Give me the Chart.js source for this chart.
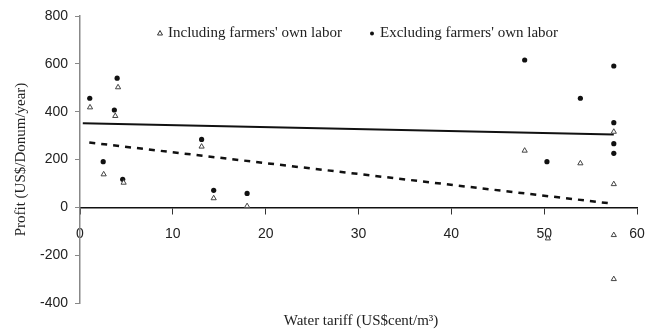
<!DOCTYPE html>
<html lang="en">
<head>
    <meta charset="UTF-8">
    <title>Profit vs water tariff</title>
    <script src="https://cdn.jsdelivr.net/npm/chart.js"></script>
    <style>
        html, body {
            margin: 0;
            padding: 0;
            background: #ffffff;
        }
        #wrap {
            width: 661px;
            height: 331px;
        }
    </style>
</head>
<body>
    <div id="wrap"><canvas id="chartCanvas" width="661" height="331"></canvas></div>
    <script>
        // Datos
        const tariffIncl = [1.08, 3.8, 4.1, 13.1, 2.55, 4.7, 14.4, 18.0, 47.9, 53.9, 57.5, 57.5, 50.4, 57.5, 57.5];
        const profitIncl = [418, 382, 502, 254, 138, 103, 38, 5, 237, 184, 316, 97, -130, -116, -300];

        const tariffExcl = [1.05, 3.7, 4.0, 2.5, 13.1, 4.6, 14.4, 18.0, 47.9, 57.5, 53.9, 57.5, 57.5, 57.5, 50.3];
        const profitExcl = [456, 407, 540, 191, 284, 117, 71, 58, 616, 591, 456, 354, 266, 226, 191];

        // Líneas de tendencia (extremos)
        const trendExclX = [0.3, 57.5];
        const trendExclY = [352, 305];
        const trendInclX = [1, 57];
        const trendInclY = [271, 17];

        const seriesNames = ["Including farmers' own labor", "Excluding farmers' own labor"];
        const xTitle = "Water tariff (US$cent/m\u00B3)";
        const yTitle = "Profit (US$/Donum/year)";

        const toPoints = (xs, ys) => xs.map((x, i) => ({ x: x, y: ys[i] }));

        const serif = "'Liberation Serif', 'Times New Roman', serif";
        const sans = "'Liberation Sans', Arial, sans-serif";

        // Leyenda y título del eje X dibujados a mano
        const extrasPlugin = {
            id: 'extras',
            afterDraw: (chart) => {
                const ctx = chart.ctx;
                ctx.save();
                ctx.fillStyle = '#222222';
                ctx.font = '15px ' + serif;
                ctx.textBaseline = 'middle';
                ctx.textAlign = 'left';

                // triángulo
                ctx.beginPath();
                ctx.moveTo(160, 30.5);
                ctx.lineTo(162.5, 35);
                ctx.lineTo(157.5, 35);
                ctx.closePath();
                ctx.strokeStyle = '#333333';
                ctx.lineWidth = 1;
                ctx.stroke();
                ctx.fillText(seriesNames[0], 168, 33);

                // punto
                ctx.beginPath();
                ctx.arc(372, 33.5, 2, 0, Math.PI * 2);
                ctx.fillStyle = '#111111';
                ctx.fill();
                ctx.fillStyle = '#222222';
                ctx.fillText(seriesNames[1], 380, 33);

                ctx.textAlign = 'center';
                ctx.fillText(xTitle, 361, 321);
                ctx.restore();
            }
        };

        const ctx = document.getElementById("chartCanvas").getContext("2d");
        new Chart(ctx, {
            type: "scatter",
            data: {
                datasets: [
                    {
                        label: seriesNames[0],
                        data: toPoints(tariffIncl, profitIncl),
                        pointStyle: 'triangle',
                        pointRadius: 3,
                        backgroundColor: '#ffffff',
                        borderColor: '#444444',
                        borderWidth: 1
                    },
                    {
                        label: seriesNames[1],
                        data: toPoints(tariffExcl, profitExcl),
                        pointStyle: 'circle',
                        pointRadius: 2.6,
                        backgroundColor: '#111111',
                        borderColor: '#111111',
                        borderWidth: 0
                    },
                    {
                        type: 'line',
                        data: toPoints(trendExclX, trendExclY),
                        borderColor: '#111111',
                        borderWidth: 2,
                        pointRadius: 0,
                        fill: false
                    },
                    {
                        type: 'line',
                        data: toPoints(trendInclX, trendInclY),
                        borderColor: '#111111',
                        borderWidth: 2.5,
                        borderDash: [6, 6],
                        pointRadius: 0,
                        fill: false
                    }
                ]
            },
            options: {
                responsive: false,
                animation: false,
                layout: {
                    padding: { left: 0, right: 24, top: 16, bottom: 28 }
                },
                plugins: {
                    legend: { display: false },
                    tooltip: { enabled: false }
                },
                scales: {
                    x: {
                        type: 'linear',
                        position: { y: 0 },
                        min: 0,
                        max: 60,
                        ticks: {
                            stepSize: 10,
                            padding: 12,
                            color: '#222222',
                            font: { family: sans, size: 14 }
                        },
                        grid: {
                            drawOnChartArea: false,
                            tickLength: 6,
                            color: '#333333'
                        },
                        border: { color: '#111111', width: 1.5 }
                    },
                    y: {
                        type: 'linear',
                        min: -400,
                        max: 800,
                        afterFit: (scale) => { scale.width = 80; },
                        ticks: {
                            stepSize: 200,
                            padding: 7,
                            color: '#222222',
                            font: { family: sans, size: 14 }
                        },
                        grid: {
                            drawOnChartArea: false,
                            tickLength: 5,
                            color: '#888888'
                        },
                        border: { color: '#888888', width: 1.5 },
                        title: {
                            display: true,
                            text: yTitle,
                            color: '#222222',
                            font: { family: serif, size: 15 },
                            padding: { top: 12, bottom: 0 }
                        }
                    }
                }
            },
            plugins: [extrasPlugin]
        });
    </script>
</body>
</html>
